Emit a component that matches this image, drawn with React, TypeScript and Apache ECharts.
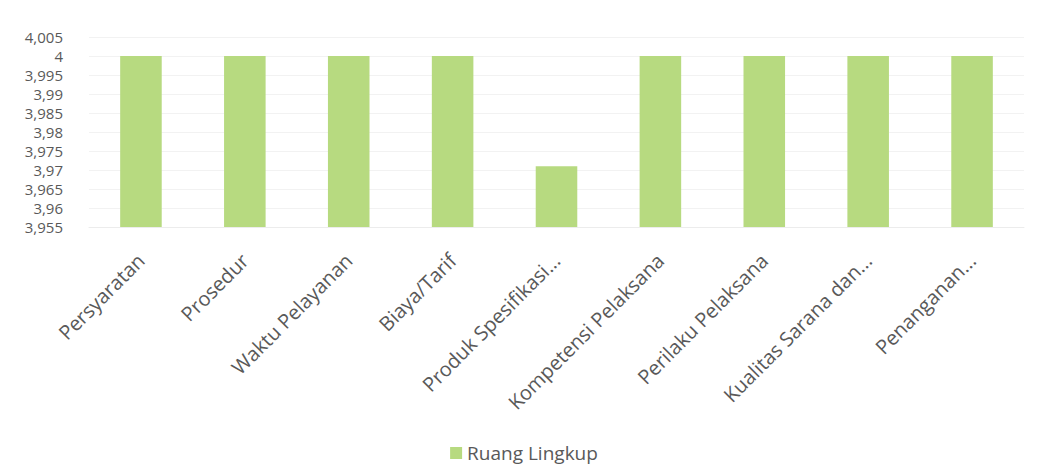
import React, { useEffect, useRef } from "react";
import * as echarts from "echarts";

const categories = [
  "Persyaratan",
  "Prosedur",
  "Waktu Pelayanan",
  "Biaya/Tarif",
  "Produk Spesifikasi...",
  "Kompetensi Pelaksana",
  "Perilaku Pelaksana",
  "Kualitas Sarana dan...",
  "Penanganan...",
];
const values = [4, 4, 4, 4, 3.971, 4, 4, 4, 4];
const seriesName = "Ruang Lingkup";
const yMin = 3.955;
const yMax = 4.005;
const yStep = 0.005;

export default function App() {
  const ref = useRef<HTMLDivElement>(null);
  useEffect(() => {
    if (!ref.current) return;
    const chart = echarts.init(ref.current, undefined, { renderer: "svg" });
    const font = "Open Sans";
    chart.setOption({
      animation: false,
      backgroundColor: "#ffffff",
      grid: { left: 89, right: 24, top: 37, bottom: 242, containLabel: false },
      legend: {
        top: 443,
        left: "center",
        padding: 0,
        icon: "rect",
        itemWidth: 12,
        itemHeight: 12,
        itemGap: 6,
        textStyle: { color: "#595959", fontSize: 19, lineHeight: 20, fontFamily: font },
        data: [seriesName],
      },
      xAxis: {
        type: "category",
        data: categories,
        axisLine: { show: true, lineStyle: { color: "#ececec" } },
        axisTick: { show: false },
        axisLabel: {
          rotate: 45,
          interval: 0,
          margin: 30,
          color: "#595959",
          fontSize: 20,
          fontFamily: font,
        },
      },
      yAxis: {
        type: "value",
        min: yMin,
        max: yMax,
        interval: yStep,
        axisLine: { show: false },
        axisTick: { show: false },
        splitLine: { show: true, lineStyle: { color: "#f2f2f2" } },
        axisLabel: {
          margin: 26,
          color: "#595959",
          fontSize: 15,
          lineHeight: 15,
          fontFamily: font,
          formatter: (v: number) =>
            String(Math.round(v * 1000) / 1000).replace(".", ","),
        },
      },
      series: [
        {
          name: seriesName,
          type: "bar",
          data: values,
          barCategoryGap: "60%",
          itemStyle: { color: "#b7da80" },
        },
      ],
    });
    return () => chart.dispose();
  }, []);
  return (
    <div
      ref={ref}
      style={{ position: "absolute", left: 0, top: 0, width: 1048, height: 469 }}
    />
  );
}
